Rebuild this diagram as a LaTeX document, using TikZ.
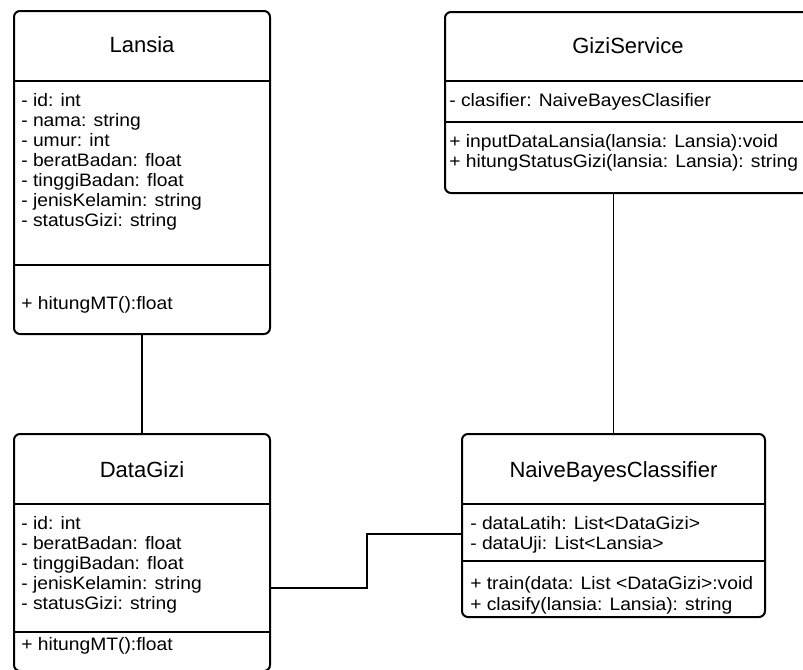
\documentclass[tikz,border=0pt]{standalone}
\usepackage{fontspec}
\setmainfont{Liberation Sans}
\newfontfamily\memberfont{Liberation Sans}[FakeStretch=1.07]
\usetikzlibrary{fit}
\tikzset{
  classbox/.style={draw, line width=1.5pt, rounded corners=4.5pt, inner sep=0pt},
  divider/.style={line width=1.5pt},
  link/.style={line width=1pt},
  classname/.style={anchor=base, inner sep=0pt, font=\fontsize{16.5}{19}\selectfont},
  member/.style={anchor=base west, inner sep=0pt, font=\memberfont\fontsize{13.5}{15}\selectfont},
}

\begin{document}
\begin{tikzpicture}[x=0.75pt,y=0.75pt,yscale=-1,xscale=1]
\useasboundingbox (0,0) rectangle (803,669);
\clip (0,0) rectangle (803,669);

%Shape: Class Lansia
\node [classbox, fit={(14,11) (270,334)}] (lansia) {};
\draw [divider] (lansia.west |- 0,81) -- (lansia.east |- 0,81);
\draw [divider] (lansia.west |- 0,265) -- (lansia.east |- 0,265);
% Text Node
\node [classname] (lansiaT) at (142,52) {Lansia};
\foreach \txt [count=\i from 0] in {- id: int, - nama: string, - umur: int, - beratBadan: float, - tinggiBadan: float, - jenisKelamin: string, - statusGizi: string}
  \node [member] (lansiaA\i) at (21,{106.5+20*\i}) {\txt};
\node [member] (lansiaM0) at (21,309.5) {+ hitungMT():float};

%Shape: Class GiziService
\node [classbox, fit={(445,12) (811,193)}] (gizi) {};
\draw [divider] (gizi.west |- 0,81) -- (gizi.east |- 0,81);
\draw [divider] (gizi.west |- 0,122) -- (gizi.east |- 0,122);
% Text Node
\node [classname] (giziT) at (628,53) {GiziService};
\node [member] (giziA0) at (449,106.5) {- clasifier: NaiveBayesClasifier};
\node [member] (giziM0) at (449,147.5) {+ inputDataLansia(lansia: Lansia):void};
\node [member] (giziM1) at (449,167.5) {+ hitungStatusGizi(lansia: Lansia): string};

%Shape: Class DataGizi
\node [classbox, fit={(14,434) (270,671)}] (datagizi) {};
\draw [divider] (datagizi.west |- 0,504) -- (datagizi.east |- 0,504);
\draw [divider] (datagizi.west |- 0,632) -- (datagizi.east |- 0,632);
% Text Node
\node [classname] (datagiziT) at (142,477) {DataGizi};
\foreach \txt [count=\i from 0] in {- id: int, - beratBadan: float, - tinggiBadan: float, - jenisKelamin: string, - statusGizi: string}
  \node [member] (datagiziA\i) at (21,{529.5+20*\i}) {\txt};
\node [member] (datagiziM0) at (21,650) {+ hitungMT():float};

%Shape: Class NaiveBayesClassifier
\node [classbox, fit={(462,434) (765,617)}] (nb) {};
\draw [divider] (nb.west |- 0,504) -- (nb.east |- 0,504);
\draw [divider] (nb.west |- 0,561) -- (nb.east |- 0,561);
% Text Node
\node [classname] (nbT) at (613.5,477) {NaiveBayesClassifier};
\node [member] (nbA0) at (470,529.5) {- dataLatih: List<DataGizi>};
\node [member] (nbA1) at (470,549.5) {- dataUji: List<Lansia>};
\node [member] (nbM0) at (470,589.5) {+ train(data: List <DataGizi>:void};
\node [member] (nbM1) at (470,610) {+ clasify(lansia: Lansia): string};

%Straight Lines: associations
\coordinate (bend) at (367,534);
\draw [link] (lansia.south) -- (datagizi.north);
\draw [link] (gizi.south -| nb.north) -- (nb.north);
\draw [link] (datagizi.east |- 0,588) -| (bend) -- (nb.west |- bend);

\end{tikzpicture}
\end{document}
